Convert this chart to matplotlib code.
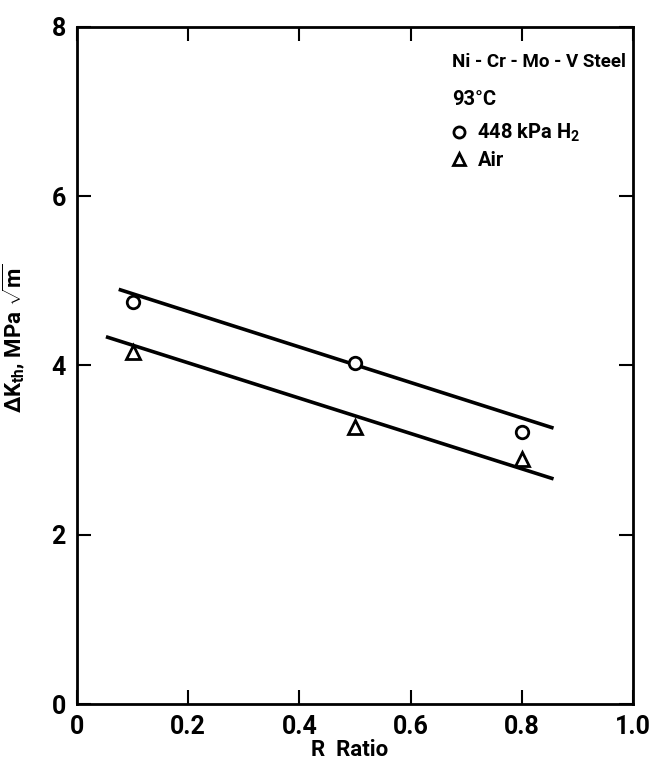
"""Threshold stress intensity range vs R ratio for Ni-Cr-Mo-V steel at 93 C."""

import matplotlib.pyplot as plt
from matplotlib.lines import Line2D

plt.rcParams['font.family'] = ['Roboto', 'DejaVu Sans']
plt.rcParams['font.weight'] = 'bold'
plt.rcParams['axes.labelweight'] = 'bold'
plt.rcParams['mathtext.fontset'] = 'custom'
plt.rcParams['mathtext.rm'] = 'Roboto:bold'
plt.rcParams['mathtext.it'] = 'Roboto:bold'
plt.rcParams['mathtext.bf'] = 'Roboto:bold'

# measured thresholds
r_ratio = [0.1, 0.5, 0.8]
dk_h2 = [4.75, 4.03, 3.22]
dk_air = [4.16, 3.27, 2.89]

# fitted trend lines (end points)
fit_h2_x = [0.075, 0.857]
fit_h2_y = [4.90, 3.26]
fit_air_x = [0.052, 0.857]
fit_air_y = [4.34, 2.66]

x_ticks = [0, 0.2, 0.4, 0.6, 0.8, 1.0]
x_labels = ['0', '0.2', '0.4', '0.6', '0.8', '1.0']
y_ticks = [0, 2, 4, 6, 8]

fig = plt.figure(figsize=(6.55, 7.62), dpi=100)
ax = fig.add_axes([0.1176, 0.0761, 0.8489, 0.8885])

ax.plot(fit_h2_x, fit_h2_y, color='black', lw=2.6, solid_capstyle='butt')
ax.plot(fit_air_x, fit_air_y, color='black', lw=2.6, solid_capstyle='butt')
ax.plot(r_ratio, dk_h2, 'o', ms=9, mfc='white', mec='black', mew=2)
ax.plot(r_ratio, dk_air, '^', ms=10, mfc='white', mec='black', mew=2)

ax.set_xlim(0, 1.0)
ax.set_ylim(0, 8)
ax.set_xticks(x_ticks)
ax.set_xticklabels(x_labels)
ax.set_yticks(y_ticks)
ax.tick_params(direction='in', length=10, width=1.5, labelsize=18,
               top=True, right=True, pad=8)
for s in ax.spines.values():
    s.set_linewidth(2)

ax.set_xlabel('R  Ratio', fontsize=16)
ax.xaxis.set_label_coords(0.49, -0.051)
ax.set_ylabel(r'$\Delta K_{th}$, MPa $\sqrt{m}$', fontsize=16)
ax.yaxis.set_label_coords(-0.09, 0.54)

ax.text(0.675, 0.948, 'Ni - Cr - Mo - V Steel', transform=ax.transAxes,
        fontsize=13.5, ha='left', va='center')
ax.text(0.675, 0.893, '93°C', transform=ax.transAxes,
        fontsize=14.5, ha='left', va='center')

handles = [Line2D([], [], ls='none', marker='o', ms=8, mfc='white', mec='black', mew=2),
           Line2D([], [], ls='none', marker='^', ms=9, mfc='white', mec='black', mew=2)]
ax.legend(handles, [r'448 kPa H$_2$', 'Air'], loc='upper left',
          bbox_to_anchor=(0.655, 0.872), frameon=False, fontsize=14.5,
          handlelength=1.0, handletextpad=0.4, labelspacing=0.35,
          borderaxespad=0)

fig.savefig('out.png', dpi=100)
